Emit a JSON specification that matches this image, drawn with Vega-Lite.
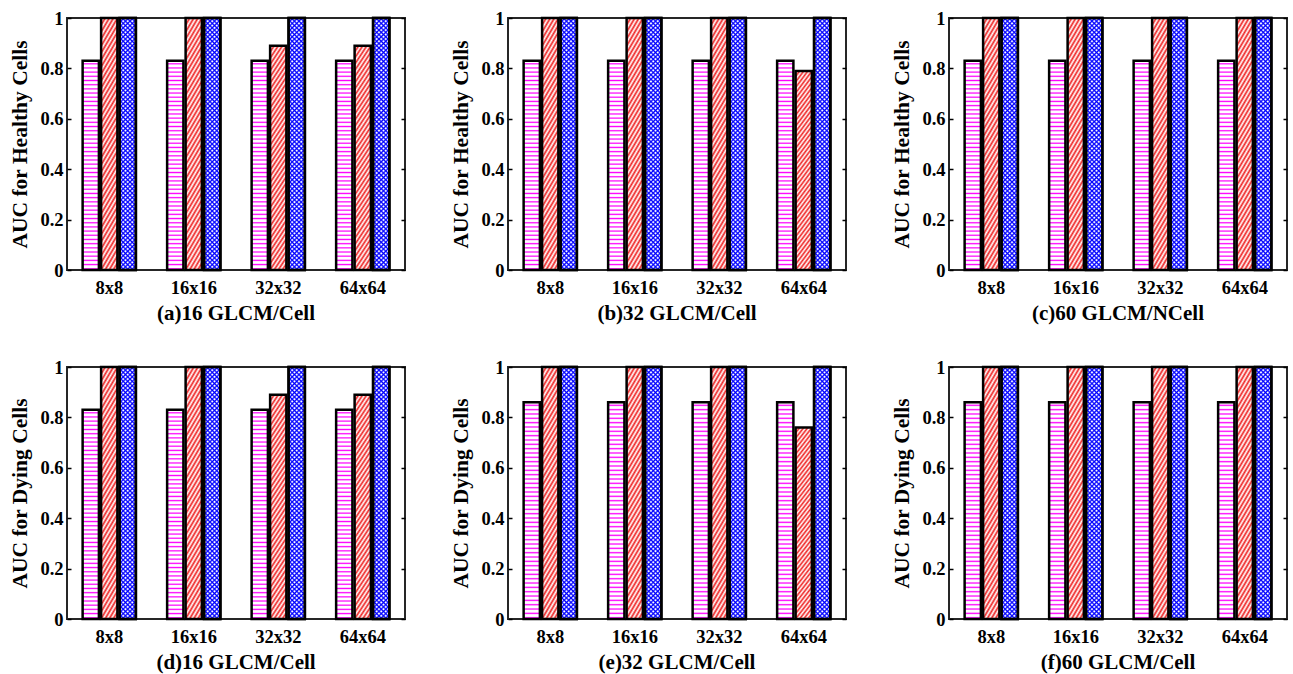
{
  "$schema": "https://vega.github.io/schema/vega-lite/v6.json",
  "background": "white",
  "padding": {"left": 8, "top": 8, "right": 5, "bottom": 5},
  "params": [
    {"name": "magentaStripes", "value": {"gradient": "linear", "x1": 0, "y1": 0, "x2": 0, "y2": 1, "stops": [
        {"offset":0.008,"color":"#fff"},{"offset":0.014,"color":"#f0f"},{"offset":0.02,"color":"#fff"},
        {"offset":0.028,"color":"#fff"},{"offset":0.034,"color":"#f0f"},{"offset":0.04,"color":"#fff"},
        {"offset":0.048,"color":"#fff"},{"offset":0.054,"color":"#f0f"},{"offset":0.06,"color":"#fff"},
        {"offset":0.068,"color":"#fff"},{"offset":0.074,"color":"#f0f"},{"offset":0.08,"color":"#fff"},
        {"offset":0.088,"color":"#fff"},{"offset":0.094,"color":"#f0f"},{"offset":0.1,"color":"#fff"},
        {"offset":0.108,"color":"#fff"},{"offset":0.114,"color":"#f0f"},{"offset":0.12,"color":"#fff"},
        {"offset":0.128,"color":"#fff"},{"offset":0.134,"color":"#f0f"},{"offset":0.14,"color":"#fff"},
        {"offset":0.148,"color":"#fff"},{"offset":0.154,"color":"#f0f"},{"offset":0.16,"color":"#fff"},
        {"offset":0.168,"color":"#fff"},{"offset":0.174,"color":"#f0f"},{"offset":0.18,"color":"#fff"},
        {"offset":0.188,"color":"#fff"},{"offset":0.194,"color":"#f0f"},{"offset":0.2,"color":"#fff"},
        {"offset":0.208,"color":"#fff"},{"offset":0.214,"color":"#f0f"},{"offset":0.22,"color":"#fff"},
        {"offset":0.228,"color":"#fff"},{"offset":0.234,"color":"#f0f"},{"offset":0.24,"color":"#fff"},
        {"offset":0.248,"color":"#fff"},{"offset":0.254,"color":"#f0f"},{"offset":0.26,"color":"#fff"},
        {"offset":0.268,"color":"#fff"},{"offset":0.274,"color":"#f0f"},{"offset":0.28,"color":"#fff"},
        {"offset":0.288,"color":"#fff"},{"offset":0.294,"color":"#f0f"},{"offset":0.3,"color":"#fff"},
        {"offset":0.308,"color":"#fff"},{"offset":0.314,"color":"#f0f"},{"offset":0.32,"color":"#fff"},
        {"offset":0.328,"color":"#fff"},{"offset":0.334,"color":"#f0f"},{"offset":0.34,"color":"#fff"},
        {"offset":0.348,"color":"#fff"},{"offset":0.354,"color":"#f0f"},{"offset":0.36,"color":"#fff"},
        {"offset":0.368,"color":"#fff"},{"offset":0.374,"color":"#f0f"},{"offset":0.38,"color":"#fff"},
        {"offset":0.388,"color":"#fff"},{"offset":0.394,"color":"#f0f"},{"offset":0.4,"color":"#fff"},
        {"offset":0.408,"color":"#fff"},{"offset":0.414,"color":"#f0f"},{"offset":0.42,"color":"#fff"},
        {"offset":0.428,"color":"#fff"},{"offset":0.434,"color":"#f0f"},{"offset":0.44,"color":"#fff"},
        {"offset":0.448,"color":"#fff"},{"offset":0.454,"color":"#f0f"},{"offset":0.46,"color":"#fff"},
        {"offset":0.468,"color":"#fff"},{"offset":0.474,"color":"#f0f"},{"offset":0.48,"color":"#fff"},
        {"offset":0.488,"color":"#fff"},{"offset":0.494,"color":"#f0f"},{"offset":0.5,"color":"#fff"},
        {"offset":0.508,"color":"#fff"},{"offset":0.514,"color":"#f0f"},{"offset":0.52,"color":"#fff"},
        {"offset":0.528,"color":"#fff"},{"offset":0.534,"color":"#f0f"},{"offset":0.54,"color":"#fff"},
        {"offset":0.548,"color":"#fff"},{"offset":0.554,"color":"#f0f"},{"offset":0.56,"color":"#fff"},
        {"offset":0.568,"color":"#fff"},{"offset":0.574,"color":"#f0f"},{"offset":0.58,"color":"#fff"},
        {"offset":0.588,"color":"#fff"},{"offset":0.594,"color":"#f0f"},{"offset":0.6,"color":"#fff"},
        {"offset":0.608,"color":"#fff"},{"offset":0.614,"color":"#f0f"},{"offset":0.62,"color":"#fff"},
        {"offset":0.628,"color":"#fff"},{"offset":0.634,"color":"#f0f"},{"offset":0.64,"color":"#fff"},
        {"offset":0.648,"color":"#fff"},{"offset":0.654,"color":"#f0f"},{"offset":0.66,"color":"#fff"},
        {"offset":0.668,"color":"#fff"},{"offset":0.674,"color":"#f0f"},{"offset":0.68,"color":"#fff"},
        {"offset":0.688,"color":"#fff"},{"offset":0.694,"color":"#f0f"},{"offset":0.7,"color":"#fff"},
        {"offset":0.708,"color":"#fff"},{"offset":0.714,"color":"#f0f"},{"offset":0.72,"color":"#fff"},
        {"offset":0.728,"color":"#fff"},{"offset":0.734,"color":"#f0f"},{"offset":0.74,"color":"#fff"},
        {"offset":0.748,"color":"#fff"},{"offset":0.754,"color":"#f0f"},{"offset":0.76,"color":"#fff"},
        {"offset":0.768,"color":"#fff"},{"offset":0.774,"color":"#f0f"},{"offset":0.78,"color":"#fff"},
        {"offset":0.788,"color":"#fff"},{"offset":0.794,"color":"#f0f"},{"offset":0.8,"color":"#fff"},
        {"offset":0.808,"color":"#fff"},{"offset":0.814,"color":"#f0f"},{"offset":0.82,"color":"#fff"},
        {"offset":0.828,"color":"#fff"},{"offset":0.834,"color":"#f0f"},{"offset":0.84,"color":"#fff"},
        {"offset":0.848,"color":"#fff"},{"offset":0.854,"color":"#f0f"},{"offset":0.86,"color":"#fff"},
        {"offset":0.868,"color":"#fff"},{"offset":0.874,"color":"#f0f"},{"offset":0.88,"color":"#fff"},
        {"offset":0.888,"color":"#fff"},{"offset":0.894,"color":"#f0f"},{"offset":0.9,"color":"#fff"},
        {"offset":0.908,"color":"#fff"},{"offset":0.914,"color":"#f0f"},{"offset":0.92,"color":"#fff"},
        {"offset":0.928,"color":"#fff"},{"offset":0.934,"color":"#f0f"},{"offset":0.94,"color":"#fff"},
        {"offset":0.948,"color":"#fff"},{"offset":0.954,"color":"#f0f"},{"offset":0.96,"color":"#fff"},
        {"offset":0.968,"color":"#fff"},{"offset":0.974,"color":"#f0f"},{"offset":0.98,"color":"#fff"},
        {"offset":0.988,"color":"#fff"},{"offset":0.994,"color":"#f0f"},{"offset":1,"color":"#fff"}
    ]}},
    {"name": "redHatch", "value": {"gradient": "linear", "x1": 0, "y1": 0, "x2": 0.1206, "y2": 1.0967, "stops": [
        {"offset":0,"color":"#e22"},{"offset":0.0125,"color":"#fff"},{"offset":0.025,"color":"#e22"},{"offset":0.0375,"color":"#fff"},{"offset":0.05,"color":"#e22"},{"offset":0.0625,"color":"#fff"},{"offset":0.075,"color":"#e22"},{"offset":0.0875,"color":"#fff"},
        {"offset":0.1,"color":"#e22"},{"offset":0.1125,"color":"#fff"},{"offset":0.125,"color":"#e22"},{"offset":0.1375,"color":"#fff"},{"offset":0.15,"color":"#e22"},{"offset":0.1625,"color":"#fff"},{"offset":0.175,"color":"#e22"},{"offset":0.1875,"color":"#fff"},
        {"offset":0.2,"color":"#e22"},{"offset":0.2125,"color":"#fff"},{"offset":0.225,"color":"#e22"},{"offset":0.2375,"color":"#fff"},{"offset":0.25,"color":"#e22"},{"offset":0.2625,"color":"#fff"},{"offset":0.275,"color":"#e22"},{"offset":0.2875,"color":"#fff"},
        {"offset":0.3,"color":"#e22"},{"offset":0.3125,"color":"#fff"},{"offset":0.325,"color":"#e22"},{"offset":0.3375,"color":"#fff"},{"offset":0.35,"color":"#e22"},{"offset":0.3625,"color":"#fff"},{"offset":0.375,"color":"#e22"},{"offset":0.3875,"color":"#fff"},
        {"offset":0.4,"color":"#e22"},{"offset":0.4125,"color":"#fff"},{"offset":0.425,"color":"#e22"},{"offset":0.4375,"color":"#fff"},{"offset":0.45,"color":"#e22"},{"offset":0.4625,"color":"#fff"},{"offset":0.475,"color":"#e22"},{"offset":0.4875,"color":"#fff"},
        {"offset":0.5,"color":"#e22"},{"offset":0.5125,"color":"#fff"},{"offset":0.525,"color":"#e22"},{"offset":0.5375,"color":"#fff"},{"offset":0.55,"color":"#e22"},{"offset":0.5625,"color":"#fff"},{"offset":0.575,"color":"#e22"},{"offset":0.5875,"color":"#fff"},
        {"offset":0.6,"color":"#e22"},{"offset":0.6125,"color":"#fff"},{"offset":0.625,"color":"#e22"},{"offset":0.6375,"color":"#fff"},{"offset":0.65,"color":"#e22"},{"offset":0.6625,"color":"#fff"},{"offset":0.675,"color":"#e22"},{"offset":0.6875,"color":"#fff"},
        {"offset":0.7,"color":"#e22"},{"offset":0.7125,"color":"#fff"},{"offset":0.725,"color":"#e22"},{"offset":0.7375,"color":"#fff"},{"offset":0.75,"color":"#e22"},{"offset":0.7625,"color":"#fff"},{"offset":0.775,"color":"#e22"},{"offset":0.7875,"color":"#fff"},
        {"offset":0.8,"color":"#e22"},{"offset":0.8125,"color":"#fff"},{"offset":0.825,"color":"#e22"},{"offset":0.8375,"color":"#fff"},{"offset":0.85,"color":"#e22"},{"offset":0.8625,"color":"#fff"},{"offset":0.875,"color":"#e22"},{"offset":0.8875,"color":"#fff"},
        {"offset":0.9,"color":"#e22"},{"offset":0.9125,"color":"#fff"},{"offset":0.925,"color":"#e22"},{"offset":0.9375,"color":"#fff"},{"offset":0.95,"color":"#e22"},{"offset":0.9625,"color":"#fff"},{"offset":0.975,"color":"#e22"},{"offset":0.9875,"color":"#fff"},
        {"offset":1,"color":"#e22"}
    ]}},
    {"name": "blueHatchA", "value": {"gradient": "linear", "x1": 0, "y1": 0, "x2": 0.0673, "y2": 1.0592, "stops": [
        {"offset":0,"color":"#00f"},{"offset":0.0067,"color":"#fff"},{"offset":0.01,"color":"#fff"},{"offset":0.0167,"color":"#00f"},{"offset":0.0233,"color":"#fff"},{"offset":0.0267,"color":"#fff"},{"offset":0.0333,"color":"#00f"},{"offset":0.04,"color":"#fff"},{"offset":0.0433,"color":"#fff"},{"offset":0.05,"color":"#00f"},{"offset":0.0567,"color":"#fff"},{"offset":0.06,"color":"#fff"},{"offset":0.0667,"color":"#00f"},{"offset":0.0733,"color":"#fff"},{"offset":0.0767,"color":"#fff"},{"offset":0.0833,"color":"#00f"},{"offset":0.09,"color":"#fff"},{"offset":0.0933,"color":"#fff"},
        {"offset":0.1,"color":"#00f"},{"offset":0.1067,"color":"#fff"},{"offset":0.11,"color":"#fff"},{"offset":0.1167,"color":"#00f"},{"offset":0.1233,"color":"#fff"},{"offset":0.1267,"color":"#fff"},{"offset":0.1333,"color":"#00f"},{"offset":0.14,"color":"#fff"},{"offset":0.1433,"color":"#fff"},{"offset":0.15,"color":"#00f"},{"offset":0.1567,"color":"#fff"},{"offset":0.16,"color":"#fff"},{"offset":0.1667,"color":"#00f"},{"offset":0.1733,"color":"#fff"},{"offset":0.1767,"color":"#fff"},{"offset":0.1833,"color":"#00f"},{"offset":0.19,"color":"#fff"},{"offset":0.1933,"color":"#fff"},
        {"offset":0.2,"color":"#00f"},{"offset":0.2067,"color":"#fff"},{"offset":0.21,"color":"#fff"},{"offset":0.2167,"color":"#00f"},{"offset":0.2233,"color":"#fff"},{"offset":0.2267,"color":"#fff"},{"offset":0.2333,"color":"#00f"},{"offset":0.24,"color":"#fff"},{"offset":0.2433,"color":"#fff"},{"offset":0.25,"color":"#00f"},{"offset":0.2567,"color":"#fff"},{"offset":0.26,"color":"#fff"},{"offset":0.2667,"color":"#00f"},{"offset":0.2733,"color":"#fff"},{"offset":0.2767,"color":"#fff"},{"offset":0.2833,"color":"#00f"},{"offset":0.29,"color":"#fff"},{"offset":0.2933,"color":"#fff"},
        {"offset":0.3,"color":"#00f"},{"offset":0.3067,"color":"#fff"},{"offset":0.31,"color":"#fff"},{"offset":0.3167,"color":"#00f"},{"offset":0.3233,"color":"#fff"},{"offset":0.3267,"color":"#fff"},{"offset":0.3333,"color":"#00f"},{"offset":0.34,"color":"#fff"},{"offset":0.3433,"color":"#fff"},{"offset":0.35,"color":"#00f"},{"offset":0.3567,"color":"#fff"},{"offset":0.36,"color":"#fff"},{"offset":0.3667,"color":"#00f"},{"offset":0.3733,"color":"#fff"},{"offset":0.3767,"color":"#fff"},{"offset":0.3833,"color":"#00f"},{"offset":0.39,"color":"#fff"},{"offset":0.3933,"color":"#fff"},
        {"offset":0.4,"color":"#00f"},{"offset":0.4067,"color":"#fff"},{"offset":0.41,"color":"#fff"},{"offset":0.4167,"color":"#00f"},{"offset":0.4233,"color":"#fff"},{"offset":0.4267,"color":"#fff"},{"offset":0.4333,"color":"#00f"},{"offset":0.44,"color":"#fff"},{"offset":0.4433,"color":"#fff"},{"offset":0.45,"color":"#00f"},{"offset":0.4567,"color":"#fff"},{"offset":0.46,"color":"#fff"},{"offset":0.4667,"color":"#00f"},{"offset":0.4733,"color":"#fff"},{"offset":0.4767,"color":"#fff"},{"offset":0.4833,"color":"#00f"},{"offset":0.49,"color":"#fff"},{"offset":0.4933,"color":"#fff"},
        {"offset":0.5,"color":"#00f"},{"offset":0.5067,"color":"#fff"},{"offset":0.51,"color":"#fff"},{"offset":0.5167,"color":"#00f"},{"offset":0.5233,"color":"#fff"},{"offset":0.5267,"color":"#fff"},{"offset":0.5333,"color":"#00f"},{"offset":0.54,"color":"#fff"},{"offset":0.5433,"color":"#fff"},{"offset":0.55,"color":"#00f"},{"offset":0.5567,"color":"#fff"},{"offset":0.56,"color":"#fff"},{"offset":0.5667,"color":"#00f"},{"offset":0.5733,"color":"#fff"},{"offset":0.5767,"color":"#fff"},{"offset":0.5833,"color":"#00f"},{"offset":0.59,"color":"#fff"},{"offset":0.5933,"color":"#fff"},
        {"offset":0.6,"color":"#00f"},{"offset":0.6067,"color":"#fff"},{"offset":0.61,"color":"#fff"},{"offset":0.6167,"color":"#00f"},{"offset":0.6233,"color":"#fff"},{"offset":0.6267,"color":"#fff"},{"offset":0.6333,"color":"#00f"},{"offset":0.64,"color":"#fff"},{"offset":0.6433,"color":"#fff"},{"offset":0.65,"color":"#00f"},{"offset":0.6567,"color":"#fff"},{"offset":0.66,"color":"#fff"},{"offset":0.6667,"color":"#00f"},{"offset":0.6733,"color":"#fff"},{"offset":0.6767,"color":"#fff"},{"offset":0.6833,"color":"#00f"},{"offset":0.69,"color":"#fff"},{"offset":0.6933,"color":"#fff"},
        {"offset":0.7,"color":"#00f"},{"offset":0.7067,"color":"#fff"},{"offset":0.71,"color":"#fff"},{"offset":0.7167,"color":"#00f"},{"offset":0.7233,"color":"#fff"},{"offset":0.7267,"color":"#fff"},{"offset":0.7333,"color":"#00f"},{"offset":0.74,"color":"#fff"},{"offset":0.7433,"color":"#fff"},{"offset":0.75,"color":"#00f"},{"offset":0.7567,"color":"#fff"},{"offset":0.76,"color":"#fff"},{"offset":0.7667,"color":"#00f"},{"offset":0.7733,"color":"#fff"},{"offset":0.7767,"color":"#fff"},{"offset":0.7833,"color":"#00f"},{"offset":0.79,"color":"#fff"},{"offset":0.7933,"color":"#fff"},
        {"offset":0.8,"color":"#00f"},{"offset":0.8067,"color":"#fff"},{"offset":0.81,"color":"#fff"},{"offset":0.8167,"color":"#00f"},{"offset":0.8233,"color":"#fff"},{"offset":0.8267,"color":"#fff"},{"offset":0.8333,"color":"#00f"},{"offset":0.84,"color":"#fff"},{"offset":0.8433,"color":"#fff"},{"offset":0.85,"color":"#00f"},{"offset":0.8567,"color":"#fff"},{"offset":0.86,"color":"#fff"},{"offset":0.8667,"color":"#00f"},{"offset":0.8733,"color":"#fff"},{"offset":0.8767,"color":"#fff"},{"offset":0.8833,"color":"#00f"},{"offset":0.89,"color":"#fff"},{"offset":0.8933,"color":"#fff"},
        {"offset":0.9,"color":"#00f"},{"offset":0.9067,"color":"#fff"},{"offset":0.91,"color":"#fff"},{"offset":0.9167,"color":"#00f"},{"offset":0.9233,"color":"#fff"},{"offset":0.9267,"color":"#fff"},{"offset":0.9333,"color":"#00f"},{"offset":0.94,"color":"#fff"},{"offset":0.9433,"color":"#fff"},{"offset":0.95,"color":"#00f"},{"offset":0.9567,"color":"#fff"},{"offset":0.96,"color":"#fff"},{"offset":0.9667,"color":"#00f"},{"offset":0.9733,"color":"#fff"},{"offset":0.9767,"color":"#fff"},{"offset":0.9833,"color":"#00f"},{"offset":0.99,"color":"#fff"},{"offset":0.9933,"color":"#fff"},
        {"offset":1,"color":"#00f"}
    ]}},
    {"name": "blueHatchB", "value": {"gradient": "linear", "x1": 0, "y1": 1, "x2": 0.0673, "y2": -0.0592, "stops": [
        {"offset":0,"color":"#00f"},{"offset":0.0067,"color":"rgba(0,0,255,0)"},{"offset":0.01,"color":"rgba(0,0,255,0)"},{"offset":0.0167,"color":"#00f"},{"offset":0.0233,"color":"rgba(0,0,255,0)"},{"offset":0.0267,"color":"rgba(0,0,255,0)"},{"offset":0.0333,"color":"#00f"},{"offset":0.04,"color":"rgba(0,0,255,0)"},{"offset":0.0433,"color":"rgba(0,0,255,0)"},{"offset":0.05,"color":"#00f"},{"offset":0.0567,"color":"rgba(0,0,255,0)"},{"offset":0.06,"color":"rgba(0,0,255,0)"},{"offset":0.0667,"color":"#00f"},{"offset":0.0733,"color":"rgba(0,0,255,0)"},{"offset":0.0767,"color":"rgba(0,0,255,0)"},{"offset":0.0833,"color":"#00f"},{"offset":0.09,"color":"rgba(0,0,255,0)"},{"offset":0.0933,"color":"rgba(0,0,255,0)"},
        {"offset":0.1,"color":"#00f"},{"offset":0.1067,"color":"rgba(0,0,255,0)"},{"offset":0.11,"color":"rgba(0,0,255,0)"},{"offset":0.1167,"color":"#00f"},{"offset":0.1233,"color":"rgba(0,0,255,0)"},{"offset":0.1267,"color":"rgba(0,0,255,0)"},{"offset":0.1333,"color":"#00f"},{"offset":0.14,"color":"rgba(0,0,255,0)"},{"offset":0.1433,"color":"rgba(0,0,255,0)"},{"offset":0.15,"color":"#00f"},{"offset":0.1567,"color":"rgba(0,0,255,0)"},{"offset":0.16,"color":"rgba(0,0,255,0)"},{"offset":0.1667,"color":"#00f"},{"offset":0.1733,"color":"rgba(0,0,255,0)"},{"offset":0.1767,"color":"rgba(0,0,255,0)"},{"offset":0.1833,"color":"#00f"},{"offset":0.19,"color":"rgba(0,0,255,0)"},{"offset":0.1933,"color":"rgba(0,0,255,0)"},
        {"offset":0.2,"color":"#00f"},{"offset":0.2067,"color":"rgba(0,0,255,0)"},{"offset":0.21,"color":"rgba(0,0,255,0)"},{"offset":0.2167,"color":"#00f"},{"offset":0.2233,"color":"rgba(0,0,255,0)"},{"offset":0.2267,"color":"rgba(0,0,255,0)"},{"offset":0.2333,"color":"#00f"},{"offset":0.24,"color":"rgba(0,0,255,0)"},{"offset":0.2433,"color":"rgba(0,0,255,0)"},{"offset":0.25,"color":"#00f"},{"offset":0.2567,"color":"rgba(0,0,255,0)"},{"offset":0.26,"color":"rgba(0,0,255,0)"},{"offset":0.2667,"color":"#00f"},{"offset":0.2733,"color":"rgba(0,0,255,0)"},{"offset":0.2767,"color":"rgba(0,0,255,0)"},{"offset":0.2833,"color":"#00f"},{"offset":0.29,"color":"rgba(0,0,255,0)"},{"offset":0.2933,"color":"rgba(0,0,255,0)"},
        {"offset":0.3,"color":"#00f"},{"offset":0.3067,"color":"rgba(0,0,255,0)"},{"offset":0.31,"color":"rgba(0,0,255,0)"},{"offset":0.3167,"color":"#00f"},{"offset":0.3233,"color":"rgba(0,0,255,0)"},{"offset":0.3267,"color":"rgba(0,0,255,0)"},{"offset":0.3333,"color":"#00f"},{"offset":0.34,"color":"rgba(0,0,255,0)"},{"offset":0.3433,"color":"rgba(0,0,255,0)"},{"offset":0.35,"color":"#00f"},{"offset":0.3567,"color":"rgba(0,0,255,0)"},{"offset":0.36,"color":"rgba(0,0,255,0)"},{"offset":0.3667,"color":"#00f"},{"offset":0.3733,"color":"rgba(0,0,255,0)"},{"offset":0.3767,"color":"rgba(0,0,255,0)"},{"offset":0.3833,"color":"#00f"},{"offset":0.39,"color":"rgba(0,0,255,0)"},{"offset":0.3933,"color":"rgba(0,0,255,0)"},
        {"offset":0.4,"color":"#00f"},{"offset":0.4067,"color":"rgba(0,0,255,0)"},{"offset":0.41,"color":"rgba(0,0,255,0)"},{"offset":0.4167,"color":"#00f"},{"offset":0.4233,"color":"rgba(0,0,255,0)"},{"offset":0.4267,"color":"rgba(0,0,255,0)"},{"offset":0.4333,"color":"#00f"},{"offset":0.44,"color":"rgba(0,0,255,0)"},{"offset":0.4433,"color":"rgba(0,0,255,0)"},{"offset":0.45,"color":"#00f"},{"offset":0.4567,"color":"rgba(0,0,255,0)"},{"offset":0.46,"color":"rgba(0,0,255,0)"},{"offset":0.4667,"color":"#00f"},{"offset":0.4733,"color":"rgba(0,0,255,0)"},{"offset":0.4767,"color":"rgba(0,0,255,0)"},{"offset":0.4833,"color":"#00f"},{"offset":0.49,"color":"rgba(0,0,255,0)"},{"offset":0.4933,"color":"rgba(0,0,255,0)"},
        {"offset":0.5,"color":"#00f"},{"offset":0.5067,"color":"rgba(0,0,255,0)"},{"offset":0.51,"color":"rgba(0,0,255,0)"},{"offset":0.5167,"color":"#00f"},{"offset":0.5233,"color":"rgba(0,0,255,0)"},{"offset":0.5267,"color":"rgba(0,0,255,0)"},{"offset":0.5333,"color":"#00f"},{"offset":0.54,"color":"rgba(0,0,255,0)"},{"offset":0.5433,"color":"rgba(0,0,255,0)"},{"offset":0.55,"color":"#00f"},{"offset":0.5567,"color":"rgba(0,0,255,0)"},{"offset":0.56,"color":"rgba(0,0,255,0)"},{"offset":0.5667,"color":"#00f"},{"offset":0.5733,"color":"rgba(0,0,255,0)"},{"offset":0.5767,"color":"rgba(0,0,255,0)"},{"offset":0.5833,"color":"#00f"},{"offset":0.59,"color":"rgba(0,0,255,0)"},{"offset":0.5933,"color":"rgba(0,0,255,0)"},
        {"offset":0.6,"color":"#00f"},{"offset":0.6067,"color":"rgba(0,0,255,0)"},{"offset":0.61,"color":"rgba(0,0,255,0)"},{"offset":0.6167,"color":"#00f"},{"offset":0.6233,"color":"rgba(0,0,255,0)"},{"offset":0.6267,"color":"rgba(0,0,255,0)"},{"offset":0.6333,"color":"#00f"},{"offset":0.64,"color":"rgba(0,0,255,0)"},{"offset":0.6433,"color":"rgba(0,0,255,0)"},{"offset":0.65,"color":"#00f"},{"offset":0.6567,"color":"rgba(0,0,255,0)"},{"offset":0.66,"color":"rgba(0,0,255,0)"},{"offset":0.6667,"color":"#00f"},{"offset":0.6733,"color":"rgba(0,0,255,0)"},{"offset":0.6767,"color":"rgba(0,0,255,0)"},{"offset":0.6833,"color":"#00f"},{"offset":0.69,"color":"rgba(0,0,255,0)"},{"offset":0.6933,"color":"rgba(0,0,255,0)"},
        {"offset":0.7,"color":"#00f"},{"offset":0.7067,"color":"rgba(0,0,255,0)"},{"offset":0.71,"color":"rgba(0,0,255,0)"},{"offset":0.7167,"color":"#00f"},{"offset":0.7233,"color":"rgba(0,0,255,0)"},{"offset":0.7267,"color":"rgba(0,0,255,0)"},{"offset":0.7333,"color":"#00f"},{"offset":0.74,"color":"rgba(0,0,255,0)"},{"offset":0.7433,"color":"rgba(0,0,255,0)"},{"offset":0.75,"color":"#00f"},{"offset":0.7567,"color":"rgba(0,0,255,0)"},{"offset":0.76,"color":"rgba(0,0,255,0)"},{"offset":0.7667,"color":"#00f"},{"offset":0.7733,"color":"rgba(0,0,255,0)"},{"offset":0.7767,"color":"rgba(0,0,255,0)"},{"offset":0.7833,"color":"#00f"},{"offset":0.79,"color":"rgba(0,0,255,0)"},{"offset":0.7933,"color":"rgba(0,0,255,0)"},
        {"offset":0.8,"color":"#00f"},{"offset":0.8067,"color":"rgba(0,0,255,0)"},{"offset":0.81,"color":"rgba(0,0,255,0)"},{"offset":0.8167,"color":"#00f"},{"offset":0.8233,"color":"rgba(0,0,255,0)"},{"offset":0.8267,"color":"rgba(0,0,255,0)"},{"offset":0.8333,"color":"#00f"},{"offset":0.84,"color":"rgba(0,0,255,0)"},{"offset":0.8433,"color":"rgba(0,0,255,0)"},{"offset":0.85,"color":"#00f"},{"offset":0.8567,"color":"rgba(0,0,255,0)"},{"offset":0.86,"color":"rgba(0,0,255,0)"},{"offset":0.8667,"color":"#00f"},{"offset":0.8733,"color":"rgba(0,0,255,0)"},{"offset":0.8767,"color":"rgba(0,0,255,0)"},{"offset":0.8833,"color":"#00f"},{"offset":0.89,"color":"rgba(0,0,255,0)"},{"offset":0.8933,"color":"rgba(0,0,255,0)"},
        {"offset":0.9,"color":"#00f"},{"offset":0.9067,"color":"rgba(0,0,255,0)"},{"offset":0.91,"color":"rgba(0,0,255,0)"},{"offset":0.9167,"color":"#00f"},{"offset":0.9233,"color":"rgba(0,0,255,0)"},{"offset":0.9267,"color":"rgba(0,0,255,0)"},{"offset":0.9333,"color":"#00f"},{"offset":0.94,"color":"rgba(0,0,255,0)"},{"offset":0.9433,"color":"rgba(0,0,255,0)"},{"offset":0.95,"color":"#00f"},{"offset":0.9567,"color":"rgba(0,0,255,0)"},{"offset":0.96,"color":"rgba(0,0,255,0)"},{"offset":0.9667,"color":"#00f"},{"offset":0.9733,"color":"rgba(0,0,255,0)"},{"offset":0.9767,"color":"rgba(0,0,255,0)"},{"offset":0.9833,"color":"#00f"},{"offset":0.99,"color":"rgba(0,0,255,0)"},{"offset":0.9933,"color":"rgba(0,0,255,0)"},
        {"offset":1,"color":"#00f"}
    ]}}
  ],
  "config": {
    "view": {"stroke": "#262626", "strokeWidth": 2},
    "font": "Liberation Serif",
    "bar": {"stroke": "#000", "strokeWidth": 2.5},
    "axis": {
      "labelFont": "Liberation Serif", "labelFontWeight": "bold", "labelFontSize": 18.5, "labelColor": "#000",
      "titleFont": "Liberation Serif", "titleFontWeight": "bold", "titleFontSize": 21.5, "titleColor": "#000",
      "grid": false, "domain": false, "tickColor": "#000", "tickWidth": 1.5
    },
    "header": {"labelFont": "Liberation Serif", "labelFontWeight": "bold", "labelFontSize": 21, "labelColor": "#000"}
  },
  "data": {"values": [
    {"cells":"Healthy","panel":"(a)16 GLCM/Cell","size":"8x8","series":"m","auc":0.83},
    {"cells":"Healthy","panel":"(a)16 GLCM/Cell","size":"8x8","series":"r","auc":1},
    {"cells":"Healthy","panel":"(a)16 GLCM/Cell","size":"8x8","series":"b","auc":1},
    {"cells":"Healthy","panel":"(a)16 GLCM/Cell","size":"16x16","series":"m","auc":0.83},
    {"cells":"Healthy","panel":"(a)16 GLCM/Cell","size":"16x16","series":"r","auc":1},
    {"cells":"Healthy","panel":"(a)16 GLCM/Cell","size":"16x16","series":"b","auc":1},
    {"cells":"Healthy","panel":"(a)16 GLCM/Cell","size":"32x32","series":"m","auc":0.83},
    {"cells":"Healthy","panel":"(a)16 GLCM/Cell","size":"32x32","series":"r","auc":0.89},
    {"cells":"Healthy","panel":"(a)16 GLCM/Cell","size":"32x32","series":"b","auc":1},
    {"cells":"Healthy","panel":"(a)16 GLCM/Cell","size":"64x64","series":"m","auc":0.83},
    {"cells":"Healthy","panel":"(a)16 GLCM/Cell","size":"64x64","series":"r","auc":0.89},
    {"cells":"Healthy","panel":"(a)16 GLCM/Cell","size":"64x64","series":"b","auc":1},
    {"cells":"Healthy","panel":"(b)32 GLCM/Cell","size":"8x8","series":"m","auc":0.83},
    {"cells":"Healthy","panel":"(b)32 GLCM/Cell","size":"8x8","series":"r","auc":1},
    {"cells":"Healthy","panel":"(b)32 GLCM/Cell","size":"8x8","series":"b","auc":1},
    {"cells":"Healthy","panel":"(b)32 GLCM/Cell","size":"16x16","series":"m","auc":0.83},
    {"cells":"Healthy","panel":"(b)32 GLCM/Cell","size":"16x16","series":"r","auc":1},
    {"cells":"Healthy","panel":"(b)32 GLCM/Cell","size":"16x16","series":"b","auc":1},
    {"cells":"Healthy","panel":"(b)32 GLCM/Cell","size":"32x32","series":"m","auc":0.83},
    {"cells":"Healthy","panel":"(b)32 GLCM/Cell","size":"32x32","series":"r","auc":1},
    {"cells":"Healthy","panel":"(b)32 GLCM/Cell","size":"32x32","series":"b","auc":1},
    {"cells":"Healthy","panel":"(b)32 GLCM/Cell","size":"64x64","series":"m","auc":0.83},
    {"cells":"Healthy","panel":"(b)32 GLCM/Cell","size":"64x64","series":"r","auc":0.79},
    {"cells":"Healthy","panel":"(b)32 GLCM/Cell","size":"64x64","series":"b","auc":1},
    {"cells":"Healthy","panel":"(c)60 GLCM/NCell","size":"8x8","series":"m","auc":0.83},
    {"cells":"Healthy","panel":"(c)60 GLCM/NCell","size":"8x8","series":"r","auc":1},
    {"cells":"Healthy","panel":"(c)60 GLCM/NCell","size":"8x8","series":"b","auc":1},
    {"cells":"Healthy","panel":"(c)60 GLCM/NCell","size":"16x16","series":"m","auc":0.83},
    {"cells":"Healthy","panel":"(c)60 GLCM/NCell","size":"16x16","series":"r","auc":1},
    {"cells":"Healthy","panel":"(c)60 GLCM/NCell","size":"16x16","series":"b","auc":1},
    {"cells":"Healthy","panel":"(c)60 GLCM/NCell","size":"32x32","series":"m","auc":0.83},
    {"cells":"Healthy","panel":"(c)60 GLCM/NCell","size":"32x32","series":"r","auc":1},
    {"cells":"Healthy","panel":"(c)60 GLCM/NCell","size":"32x32","series":"b","auc":1},
    {"cells":"Healthy","panel":"(c)60 GLCM/NCell","size":"64x64","series":"m","auc":0.83},
    {"cells":"Healthy","panel":"(c)60 GLCM/NCell","size":"64x64","series":"r","auc":1},
    {"cells":"Healthy","panel":"(c)60 GLCM/NCell","size":"64x64","series":"b","auc":1},
    {"cells":"Dying","panel":"(d)16 GLCM/Cell","size":"8x8","series":"m","auc":0.83},
    {"cells":"Dying","panel":"(d)16 GLCM/Cell","size":"8x8","series":"r","auc":1},
    {"cells":"Dying","panel":"(d)16 GLCM/Cell","size":"8x8","series":"b","auc":1},
    {"cells":"Dying","panel":"(d)16 GLCM/Cell","size":"16x16","series":"m","auc":0.83},
    {"cells":"Dying","panel":"(d)16 GLCM/Cell","size":"16x16","series":"r","auc":1},
    {"cells":"Dying","panel":"(d)16 GLCM/Cell","size":"16x16","series":"b","auc":1},
    {"cells":"Dying","panel":"(d)16 GLCM/Cell","size":"32x32","series":"m","auc":0.83},
    {"cells":"Dying","panel":"(d)16 GLCM/Cell","size":"32x32","series":"r","auc":0.89},
    {"cells":"Dying","panel":"(d)16 GLCM/Cell","size":"32x32","series":"b","auc":1},
    {"cells":"Dying","panel":"(d)16 GLCM/Cell","size":"64x64","series":"m","auc":0.83},
    {"cells":"Dying","panel":"(d)16 GLCM/Cell","size":"64x64","series":"r","auc":0.89},
    {"cells":"Dying","panel":"(d)16 GLCM/Cell","size":"64x64","series":"b","auc":1},
    {"cells":"Dying","panel":"(e)32 GLCM/Cell","size":"8x8","series":"m","auc":0.86},
    {"cells":"Dying","panel":"(e)32 GLCM/Cell","size":"8x8","series":"r","auc":1},
    {"cells":"Dying","panel":"(e)32 GLCM/Cell","size":"8x8","series":"b","auc":1},
    {"cells":"Dying","panel":"(e)32 GLCM/Cell","size":"16x16","series":"m","auc":0.86},
    {"cells":"Dying","panel":"(e)32 GLCM/Cell","size":"16x16","series":"r","auc":1},
    {"cells":"Dying","panel":"(e)32 GLCM/Cell","size":"16x16","series":"b","auc":1},
    {"cells":"Dying","panel":"(e)32 GLCM/Cell","size":"32x32","series":"m","auc":0.86},
    {"cells":"Dying","panel":"(e)32 GLCM/Cell","size":"32x32","series":"r","auc":1},
    {"cells":"Dying","panel":"(e)32 GLCM/Cell","size":"32x32","series":"b","auc":1},
    {"cells":"Dying","panel":"(e)32 GLCM/Cell","size":"64x64","series":"m","auc":0.86},
    {"cells":"Dying","panel":"(e)32 GLCM/Cell","size":"64x64","series":"r","auc":0.76},
    {"cells":"Dying","panel":"(e)32 GLCM/Cell","size":"64x64","series":"b","auc":1},
    {"cells":"Dying","panel":"(f)60 GLCM/Cell","size":"8x8","series":"m","auc":0.86},
    {"cells":"Dying","panel":"(f)60 GLCM/Cell","size":"8x8","series":"r","auc":1},
    {"cells":"Dying","panel":"(f)60 GLCM/Cell","size":"8x8","series":"b","auc":1},
    {"cells":"Dying","panel":"(f)60 GLCM/Cell","size":"16x16","series":"m","auc":0.86},
    {"cells":"Dying","panel":"(f)60 GLCM/Cell","size":"16x16","series":"r","auc":1},
    {"cells":"Dying","panel":"(f)60 GLCM/Cell","size":"16x16","series":"b","auc":1},
    {"cells":"Dying","panel":"(f)60 GLCM/Cell","size":"32x32","series":"m","auc":0.86},
    {"cells":"Dying","panel":"(f)60 GLCM/Cell","size":"32x32","series":"r","auc":1},
    {"cells":"Dying","panel":"(f)60 GLCM/Cell","size":"32x32","series":"b","auc":1},
    {"cells":"Dying","panel":"(f)60 GLCM/Cell","size":"64x64","series":"m","auc":0.86},
    {"cells":"Dying","panel":"(f)60 GLCM/Cell","size":"64x64","series":"r","auc":1},
    {"cells":"Dying","panel":"(f)60 GLCM/Cell","size":"64x64","series":"b","auc":1}
  ]},
  "spacing": 33,
  "vconcat": [
    {
      "transform": [{"filter": "datum.cells === 'Healthy'"}],
      "facet": {"column": {"field": "panel", "type": "nominal", "title": null, "header": {"labelOrient": "bottom", "labelPadding": 6}}},
      "spacing": 103,
      "bounds": "flush",
      "resolve": {"axis": {"y": "independent"}},
      "spec": {
        "width": 338, "height": 252,
        "encoding": {
          "x": {"field": "size", "type": "nominal", "sort": ["8x8", "16x16", "32x32", "64x64"], "title": null,
                "scale": {"paddingInner": 0.37, "paddingOuter": 0.185},
                "axis": {"labelAngle": 0, "tickSize": -4, "labelPadding": 12}},
          "xOffset": {"field": "series", "type": "nominal", "scale": {"domain": ["m", "r", "b"], "paddingInner": 0.12, "paddingOuter": 0}}
        },
        "layer": [
          {
            "encoding": {
              "y": {"field": "auc", "type": "quantitative", "title": "AUC for Healthy Cells",
                    "scale": {"domain": [0, 1], "nice": false},
                    "axis": {"values": [0, 0.2, 0.4, 0.6, 0.8, 1], "format": "~g", "tickSize": -4, "labelPadding": 8, "titlePadding": 8}}
            },
            "layer": [
              {"transform": [{"filter": "datum.series === 'm'"}], "mark": {"type": "bar", "fill": {"expr": "magentaStripes"}}},
              {"transform": [{"filter": "datum.series === 'r'"}], "mark": {"type": "bar", "fill": {"expr": "redHatch"}}},
              {"transform": [{"filter": "datum.series === 'b'"}], "mark": {"type": "bar", "fill": {"expr": "blueHatchA"}}},
              {"transform": [{"filter": "datum.series === 'b'"}], "mark": {"type": "bar", "fill": {"expr": "blueHatchB"}}}
            ]
          },
          {
            "transform": [{"filter": "datum.series === 'b'"}],
            "mark": {"type": "bar", "opacity": 0, "strokeWidth": 0},
            "encoding": {
              "y": {"field": "auc", "type": "quantitative", "title": null,
                    "scale": {"domain": [0, 1], "nice": false},
                    "axis": {"orient": "right", "labels": false, "values": [0, 0.2, 0.4, 0.6, 0.8, 1], "tickSize": -4}}
            }
          }
        ],
        "resolve": {"axis": {"y": "independent"}}
      }
    },
    {
      "transform": [{"filter": "datum.cells === 'Dying'"}],
      "facet": {"column": {"field": "panel", "type": "nominal", "title": null, "header": {"labelOrient": "bottom", "labelPadding": 6}}},
      "spacing": 103,
      "bounds": "flush",
      "resolve": {"axis": {"y": "independent"}},
      "spec": {
        "width": 338, "height": 252,
        "encoding": {
          "x": {"field": "size", "type": "nominal", "sort": ["8x8", "16x16", "32x32", "64x64"], "title": null,
                "scale": {"paddingInner": 0.37, "paddingOuter": 0.185},
                "axis": {"labelAngle": 0, "tickSize": -4, "labelPadding": 12}},
          "xOffset": {"field": "series", "type": "nominal", "scale": {"domain": ["m", "r", "b"], "paddingInner": 0.12, "paddingOuter": 0}}
        },
        "layer": [
          {
            "encoding": {
              "y": {"field": "auc", "type": "quantitative", "title": "AUC for Dying Cells",
                    "scale": {"domain": [0, 1], "nice": false},
                    "axis": {"values": [0, 0.2, 0.4, 0.6, 0.8, 1], "format": "~g", "tickSize": -4, "labelPadding": 8, "titlePadding": 8}}
            },
            "layer": [
              {"transform": [{"filter": "datum.series === 'm'"}], "mark": {"type": "bar", "fill": {"expr": "magentaStripes"}}},
              {"transform": [{"filter": "datum.series === 'r'"}], "mark": {"type": "bar", "fill": {"expr": "redHatch"}}},
              {"transform": [{"filter": "datum.series === 'b'"}], "mark": {"type": "bar", "fill": {"expr": "blueHatchA"}}},
              {"transform": [{"filter": "datum.series === 'b'"}], "mark": {"type": "bar", "fill": {"expr": "blueHatchB"}}}
            ]
          },
          {
            "transform": [{"filter": "datum.series === 'b'"}],
            "mark": {"type": "bar", "opacity": 0, "strokeWidth": 0},
            "encoding": {
              "y": {"field": "auc", "type": "quantitative", "title": null,
                    "scale": {"domain": [0, 1], "nice": false},
                    "axis": {"orient": "right", "labels": false, "values": [0, 0.2, 0.4, 0.6, 0.8, 1], "tickSize": -4}}
            }
          }
        ],
        "resolve": {"axis": {"y": "independent"}}
      }
    }
  ]
}
